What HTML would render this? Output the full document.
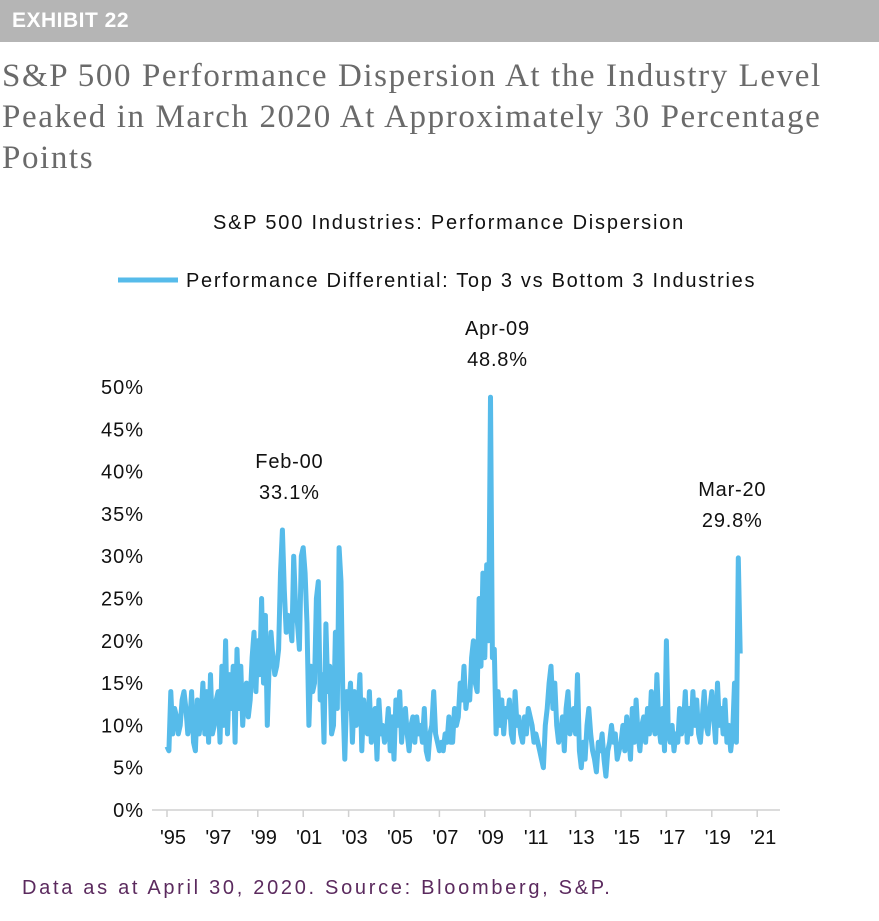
<!DOCTYPE html>
<html><head><meta charset="utf-8"><style>
body{margin:0;width:879px;height:921px;background:#fff;overflow:hidden;font-family:"Liberation Sans",sans-serif}
#hdr{position:absolute;left:0;top:0;width:879px;height:42px;background:#b5b5b5}
#hdr span{position:absolute;left:12px;top:9px;color:#fff;font-weight:bold;font-size:21px;letter-spacing:0.5px}
#title{position:absolute;left:2px;top:56px;width:879px;white-space:nowrap;font-family:"Liberation Serif",serif;font-size:33px;line-height:41px;color:#6a6a6a;letter-spacing:1.6px}
#foot{position:absolute;left:22px;top:877px;font-size:20px;color:#5b2a5e;letter-spacing:2.7px}
</style></head><body>
<div id="hdr"><span>EXHIBIT 22</span></div>
<div id="title">S&amp;P 500 Performance Dispersion At the Industry Level<br>Peaked in March 2020 At Approximately 30 Percentage<br>Points</div>
<svg id="chart" width="879" height="921" style="position:absolute;left:0;top:0">
<text x="449" y="229" text-anchor="middle" font-size="20" letter-spacing="1.8" fill="#111">S&amp;P 500 Industries: Performance Dispersion</text>
<line x1="118" y1="280" x2="178" y2="280" stroke="#56bbea" stroke-width="5"/>
<text x="186" y="287" font-size="20" letter-spacing="1.7" fill="#111">Performance Differential: Top 3 vs Bottom 3 Industries</text>
<g id="axes"></g>
<path id="series" fill="none" stroke="#56bbea" stroke-width="5" stroke-linejoin="round"/>
<g id="ann"></g>
</svg>
<div id="foot">Data as at April 30, 2020. Source: Bloomberg, S&amp;P.</div>
<script>
const startYear = 1995;
const values = [
7.5,7,14,9,12,11,9,10,13,14,12,9,
10,14,8,7,13,9,11,15,9,14,8,16,
9,10,13,14,8,17,10,20,9,16,12,17,
8,19,12,17,10,14,15,11,13,18,21,14,
20,16,25,15,23,10,17,21,18,16,17,19,
28,33.1,26,21,23,22,20,30,24,22,19,30,
31,28,22,10,17,14,15,25,27,13,16,8,
22,14,17,9,10,21,12,31,27,13,6,14,
12,15,8,14,10,12,16,7,13,10,9,14,
8,11,12,6,13,9,10,8,9,12,7,11,
6,13,10,14,8,11,12,9,7,10,11,8,
11,9,10,8,12,7,6,9,10,14,9,8,
7,8,7,9,8,11,8,8,12,10,11,15,
13,17,12,14,13,18,20,15,14,25,17,28,
18,29,20,48.8,18,19,9,14,10,13,9,12,
11,13,9,8,14,10,11,9,8,11,9,12,
11,10,8,9,8,7,6,5,10,12,15,17,
12,15,10,8,9,11,7,12,14,9,10,12,
9,16,7,5,8,6,10,12,9,7,6,4.5,
8,7,9,6,4,7,8,10,8,9,6,7,
8,10,7,11,9,6,12,8,13,9,7,10,
11,8,12,9,14,10,9,16,10,8,12,7,
20,9,8,10,7,9,8,12,9,10,14,8,
12,9,14,10,13,9,8,11,14,10,9,12,
14,11,8,15,10,12,9,13,8,10,7,9,
15,8,29.8,18.5];
const yTicks = [0,5,10,15,20,25,30,35,40,45,50];
const xTickYears = [1995,1997,1999,2001,2003,2005,2007,2009,2011,2013,2015,2017,2019,2021];
const annotations = [{label:"Feb-00",value:33.1,idx:61},{label:"Apr-09",value:48.8,idx:171},{label:"Mar-20",value:29.8,idx:302}];
const NS="http://www.w3.org/2000/svg";
const X0=167,PXY=22.7,Y0=810,PXP=8.46;
const xs=t=>X0+PXY*t;
const ys=v=>Y0-PXP*v;
const axes=document.getElementById('axes');
function mk(tag,at,txt){const e=document.createElementNS(NS,tag);for(const k in at)e.setAttribute(k,at[k]);if(txt!=null)e.textContent=txt;return e;}
const base=mk('line',{x1:152,y1:Y0,x2:780,y2:Y0,stroke:'#d0d0d0','stroke-width':1.5});


axes.appendChild(base);
yTicks.forEach(v=>{const t=mk('text',{x:144,y:ys(v)+7,'text-anchor':'end','font-size':20,'letter-spacing':1,fill:'#111'},v+'%');


axes.appendChild(t);});
xTickYears.forEach(y=>{const x=xs(y-startYear);
const l=mk('line',{x1:x,y1:Y0,x2:x,y2:Y0+7,stroke:'#d0d0d0','stroke-width':1.5});


axes.appendChild(l);
const t=mk('text',{x:x+6,y:Y0+34,'text-anchor':'middle','font-size':20,fill:'#111'},"'"+String(y).slice(2));


axes.appendChild(t);});
let d='';values.forEach((v,i)=>{d+=(i?'L':'M')+xs(i/12).toFixed(1)+','+ys(v).toFixed(1);});
document.getElementById('series').setAttribute('d',d);
const ann=document.getElementById('ann');
annotations.forEach((a,k)=>{const x=xs(a.idx/12),y=ys(a.value);
const dx=k===2?-6:7;
const t1=mk('text',{x:x+dx,y:y-62,'text-anchor':'middle','font-size':20,'letter-spacing':0.8,fill:'#111'},a.label);


ann.appendChild(t1);
const t2=mk('text',{x:x+dx,y:y-31,'text-anchor':'middle','font-size':20,'letter-spacing':0.8,fill:'#111'},a.value.toFixed(1)+'%');


ann.appendChild(t2);});
</script>
</body></html>
